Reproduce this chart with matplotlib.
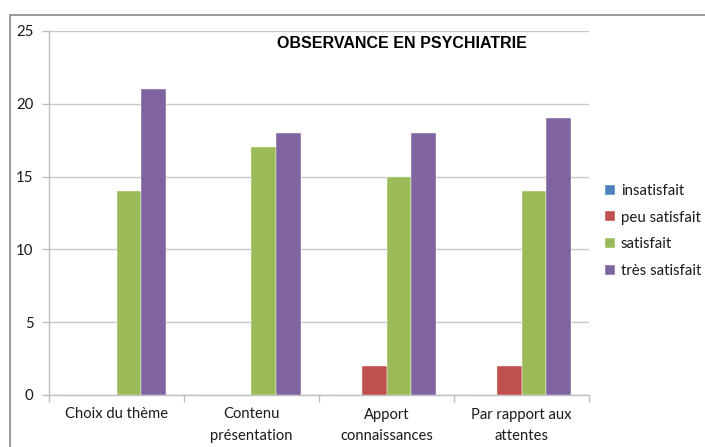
import matplotlib
matplotlib.use("Agg")
import matplotlib.pyplot as plt
import numpy as np
from matplotlib.patches import Rectangle

categories = ["Choix du thème", "Contenu\nprésentation", "Apport\nconnaissances", "Par rapport aux\nattentes"]
series_names = ["insatisfait", "peu satisfait", "satisfait", "très satisfait"]
insatisfait = [0, 0, 0, 0]
peu_satisfait = [0, 0, 2, 2]
satisfait = [14, 17, 15, 14]
tres_satisfait = [21, 18, 18, 19]
colors = ["#4F81BD", "#C0504D", "#9BBB59", "#8064A2"]
title = "OBSERVANCE EN PSYCHIATRIE"
yticks = [0, 5, 10, 15, 20, 25]

series = [insatisfait, peu_satisfait, satisfait, tres_satisfait]

W, H = 705, 447
fig = plt.figure(figsize=(W / 100, H / 100), dpi=100)
fig.patch.set_facecolor("white")

# chart border (top and left visible)
fig.patches.append(Rectangle((10 / W, -0.05), 1.2, (H - 15) / H + 0.05,
                             transform=fig.transFigure, fill=False,
                             edgecolor="#868686", linewidth=1.2, zorder=0))

ax = fig.add_axes([49 / W, 1 - 395 / H, (589 - 49) / W, (395 - 31) / H])

x = np.arange(len(categories))
bw = 0.183
for i, (vals, c, name) in enumerate(zip(series, colors, series_names)):
    offs = (i - 1.5) * bw
    ax.bar(x + offs, vals, width=bw, color=c, label=name, zorder=3,
           edgecolor="white", linewidth=0.3)

ax.set_xlim(-0.5, len(categories) - 0.5)
ax.set_ylim(0, 25)
ax.set_yticks(yticks)
ax.set_yticklabels([str(t) for t in yticks])
ax.yaxis.grid(True, color="#C8C8C8", linewidth=1.0, zorder=0)
ax.set_axisbelow(True)

for s in ["top", "right"]:
    ax.spines[s].set_visible(False)
ax.spines["left"].set_color("#BFBFBF")
ax.spines["bottom"].set_color("#BFBFBF")
ax.spines["left"].set_linewidth(1.0)
ax.spines["bottom"].set_linewidth(1.0)

ax.set_xticks(x)
ax.set_xticklabels(categories, fontfamily="Lato", fontsize=10.6, linespacing=1.7,
                   color="#1a1a1a", va="top")
ax.set_xticks(np.arange(-0.5, len(categories)), minor=True)
ax.tick_params(axis="x", which="major", length=0, pad=9)
ax.tick_params(axis="x", which="minor", length=5, color="#BFBFBF", width=1.0)
ax.tick_params(axis="y", length=5, color="#BFBFBF", width=1.0, pad=6,
               labelsize=10.8, labelcolor="#1a1a1a")
for lab in ax.get_yticklabels():
    lab.set_fontfamily("Lato")

fig.text(402 / W, 1 - 44 / H, title, ha="center", va="center",
         fontfamily="Liberation Sans", fontweight="bold", fontsize=11.5,
         color="black")

leg = fig.legend(loc="upper left", bbox_to_anchor=(605 / W, 1 - 184 / H),
                 frameon=False, prop={"family": "Lato", "size": 10.8},
                 handlelength=0.65, handleheight=0.65, handletextpad=0.4,
                 labelspacing=0.85, borderaxespad=0, borderpad=0)
for t in leg.get_texts():
    t.set_color("#1a1a1a")

fig.savefig("out.png", dpi=100, facecolor="white")
